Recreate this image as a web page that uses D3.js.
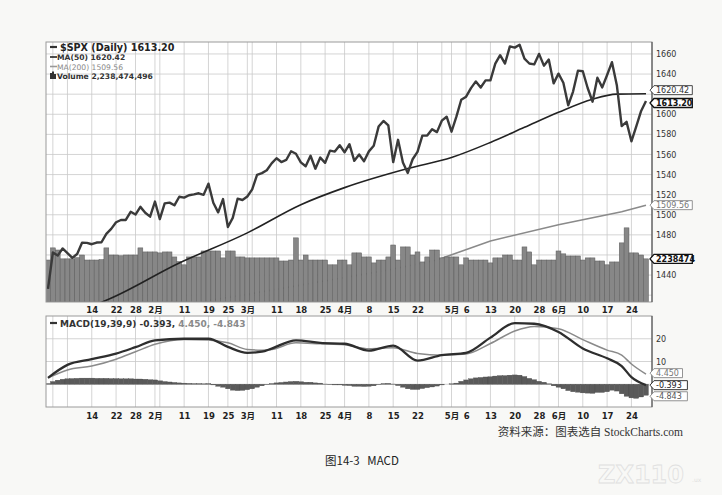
<!DOCTYPE html>
<html>
<head>
<meta charset="utf-8">
<script src="https://cdn.jsdelivr.net/npm/d3@7"></script>
<style>
body { margin: 0; background: #f8f8f6; }
svg { display: block; }
</style>
</head>
<body>
<svg id="chart" width="722" height="495"></svg>
<script>
// trading days, 2012-12-31 .. 2013-06-27
var dates = [
    "2012-12-31",
    "2013-01-02","2013-01-03","2013-01-04","2013-01-07","2013-01-08","2013-01-09","2013-01-10","2013-01-11","2013-01-14","2013-01-15","2013-01-16","2013-01-17","2013-01-18","2013-01-22","2013-01-23","2013-01-24","2013-01-25","2013-01-28","2013-01-29","2013-01-30","2013-01-31",
    "2013-02-01","2013-02-04","2013-02-05","2013-02-06","2013-02-07","2013-02-08","2013-02-11","2013-02-12","2013-02-13","2013-02-14","2013-02-15","2013-02-19","2013-02-20","2013-02-21","2013-02-22","2013-02-25","2013-02-26","2013-02-27","2013-02-28",
    "2013-03-01","2013-03-04","2013-03-05","2013-03-06","2013-03-07","2013-03-08","2013-03-11","2013-03-12","2013-03-13","2013-03-14","2013-03-15","2013-03-18","2013-03-19","2013-03-20","2013-03-21","2013-03-22","2013-03-25","2013-03-26","2013-03-27","2013-03-28",
    "2013-04-01","2013-04-02","2013-04-03","2013-04-04","2013-04-05","2013-04-08","2013-04-09","2013-04-10","2013-04-11","2013-04-12","2013-04-15","2013-04-16","2013-04-17","2013-04-18","2013-04-19","2013-04-22","2013-04-23","2013-04-24","2013-04-25","2013-04-26","2013-04-29","2013-04-30",
    "2013-05-01","2013-05-02","2013-05-03","2013-05-06","2013-05-07","2013-05-08","2013-05-09","2013-05-10","2013-05-13","2013-05-14","2013-05-15","2013-05-16","2013-05-17","2013-05-20","2013-05-21","2013-05-22","2013-05-23","2013-05-24","2013-05-28","2013-05-29","2013-05-30","2013-05-31",
    "2013-06-03","2013-06-04","2013-06-05","2013-06-06","2013-06-07","2013-06-10","2013-06-11","2013-06-12","2013-06-13","2013-06-14","2013-06-17","2013-06-18","2013-06-19","2013-06-20","2013-06-21","2013-06-24","2013-06-25","2013-06-26","2013-06-27"
];

var closes = [
    1426.19,
    1462.42,1459.37,1466.47,1461.89,1457.15,1461.02,1472.12,1472.05,1470.68,1472.34,1472.63,1480.94,1485.98,1492.56,1494.81,1494.82,1502.96,1500.18,1507.84,1501.96,1498.11,
    1513.17,1495.71,1511.29,1512.12,1509.39,1517.93,1517.01,1519.43,1520.33,1521.38,1519.79,1530.94,1511.95,1502.42,1515.60,1487.85,1496.94,1515.99,1514.68,
    1518.20,1525.20,1539.79,1541.46,1544.26,1551.18,1556.22,1552.48,1554.52,1563.23,1560.70,1552.10,1548.34,1558.71,1545.80,1556.89,1551.69,1563.77,1562.85,1569.19,
    1562.17,1570.25,1553.69,1559.98,1553.28,1563.07,1568.61,1587.73,1593.37,1588.85,1552.36,1574.57,1552.01,1541.61,1555.25,1562.50,1578.78,1578.79,1585.16,1582.24,1593.61,1597.57,
    1582.70,1597.59,1614.42,1617.50,1625.96,1632.69,1626.67,1633.70,1633.77,1650.34,1658.78,1650.47,1667.47,1666.29,1669.16,1655.35,1650.51,1649.60,1660.06,1648.36,1654.41,1630.74,
    1640.42,1631.38,1608.90,1622.56,1643.38,1642.81,1626.13,1612.52,1636.36,1626.73,1639.04,1651.81,1628.93,1588.19,1592.43,1573.09,1588.03,1603.26,1613.20
];

// volume, billions
var volumes = [
    2.18,
    2.81,2.70,2.24,2.24,2.24,2.30,2.44,2.18,2.18,2.18,2.20,2.81,2.44,2.44,2.40,2.44,2.44,2.44,2.81,2.60,2.60,
    2.60,2.55,2.60,2.60,2.34,2.10,1.93,2.34,2.34,2.34,2.65,2.65,2.65,2.65,2.29,2.65,2.65,2.34,2.34,
    2.29,2.29,2.29,2.29,2.29,2.29,2.29,2.13,2.13,2.18,3.33,2.18,2.44,2.18,2.18,2.18,2.18,1.93,1.93,2.18,
    2.18,1.93,2.55,2.55,2.34,2.34,2.03,2.18,2.18,2.34,2.96,2.18,2.86,2.86,2.44,2.60,2.08,2.34,2.70,2.70,2.29,2.34,
    2.34,2.34,1.93,2.29,2.18,2.18,2.18,2.18,2.03,2.29,2.29,2.44,2.44,2.18,2.18,2.86,2.60,1.93,2.18,2.18,2.18,2.18,
    2.65,2.50,2.39,2.39,2.39,2.18,2.29,2.29,2.13,2.13,1.93,2.08,2.08,3.07,3.85,2.55,2.55,2.44,2.24
];

// moving averages at sample dates
var ma50Dates = ["2012-12-31","2013-01-16","2013-02-08","2013-03-01","2013-03-18","2013-04-01","2013-04-18","2013-05-01","2013-05-13","2013-05-22","2013-06-03","2013-06-12","2013-06-19","2013-06-27"];
var ma50Values = [1398, 1413, 1452, 1482, 1510, 1527, 1546, 1557, 1572, 1587, 1602, 1615, 1620, 1620.42];

var ma200Dates = ["2012-12-31","2013-02-28","2013-04-12","2013-04-26","2013-05-13","2013-06-03","2013-06-20","2013-06-27"];
var ma200Values = [1390, 1420, 1445, 1455, 1474, 1490, 1503, 1509.56];

// MACD(19,39,9) line and signal, sampled
var macdDates = ["2012-12-31","2013-01-07","2013-01-14","2013-01-22","2013-01-28","2013-02-01","2013-02-11","2013-02-19","2013-02-25","2013-03-01","2013-03-06","2013-03-08","2013-03-15","2013-03-22","2013-04-01","2013-04-08","2013-04-15","2013-04-22","2013-04-29","2013-05-06","2013-05-13","2013-05-20","2013-05-24","2013-06-03","2013-06-10","2013-06-17","2013-06-20","2013-06-24","2013-06-27"];
var macdValues = [2.8, 8.5, 11, 13.5, 16.3, 19.3, 20, 20, 16.4, 13.8, 14.3, 15.7, 19.3, 18.2, 17.8, 14.8, 17, 10.4, 12.8, 13.8, 20.5, 26.9, 26.6, 23, 15.7, 11.4, 8, 3.1, -0.393];
var signalValues = [2.8, 6.3, 8, 11, 14.3, 17.6, 19.7, 19.5, 18.2, 15.3, 15, 15.3, 18.2, 17.8, 17.4, 15.6, 16, 13.5, 12.8, 13.3, 17.9, 23.4, 25.4, 24.4, 19.6, 15, 12.8, 8.9, 4.45];
var histValues = [
    0.3,
    1.2,1.8,2.2,2.4,2.5,2.6,2.7,2.7,2.7,2.6,2.6,2.6,2.5,2.5,2.4,2.4,2.4,2.3,2.3,2.2,2.0,
    1.9,1.5,1.2,1.0,0.8,0.6,0.5,0.4,0.3,0.3,0.2,0.3,-0.3,-0.9,-1.3,-2.0,-2.6,-2.8,-2.7,
    -2.4,-2.0,-1.3,-0.7,-0.2,0.3,0.6,0.8,1.0,1.2,1.3,1.1,0.9,0.9,0.6,0.5,0.1,-0.2,-0.3,-0.3,
    -0.5,-0.6,-0.9,-0.9,-1.0,-0.9,-0.7,-0.2,0.3,0.4,0.1,-0.6,-1.3,-2.0,-2.3,-2.3,-1.9,-1.5,-1.2,-0.8,-0.3,0.0,
    0.2,0.5,1.3,1.9,2.4,2.8,3.0,3.2,3.3,3.6,3.8,3.8,4.0,4.1,4.0,3.4,2.6,2.0,1.3,0.9,0.2,-0.7,
    -1.3,-2.0,-2.8,-3.3,-3.5,-3.8,-3.9,-4.0,-3.6,-3.6,-3.3,-2.6,-3.0,-4.2,-5.3,-6.0,-6.2,-5.6,-4.843
];

var tickDates = ["2013-01-14","2013-01-22","2013-01-28","2013-02-01","2013-02-11","2013-02-19","2013-02-25","2013-03-01","2013-03-11","2013-03-18","2013-03-25","2013-04-01","2013-04-08","2013-04-15","2013-04-22","2013-05-01","2013-05-06","2013-05-13","2013-05-20","2013-05-28","2013-06-03","2013-06-10","2013-06-17","2013-06-24"];
var tickLabels = ["14","22","28","2月","11","19","25","3月","11","18","25","4月","8","15","22","5月","6","13","20","28","6月","10","17","24"];
var gridDates = ["2013-01-02","2013-01-07","2013-01-14","2013-01-22","2013-01-28","2013-02-01","2013-02-04","2013-02-11","2013-02-19","2013-02-25","2013-03-01","2013-03-04","2013-03-11","2013-03-18","2013-03-25","2013-04-01","2013-04-08","2013-04-15","2013-04-22","2013-04-29","2013-05-01","2013-05-06","2013-05-13","2013-05-20","2013-05-28","2013-06-03","2013-06-10","2013-06-17","2013-06-24"];

// 1460 and 1620 sit under the value tags in the original
var priceTicks = [1440, 1480, 1500, 1520, 1540, 1560, 1580, 1600, 1640, 1660];
var priceGrid = [1420, 1440, 1460, 1480, 1500, 1520, 1540, 1560, 1580, 1600, 1620, 1640, 1660];
var macdTicks = [10, 20];
var macdGrid = [0, 10, 20];

var svg = d3.select("#chart");
var fontTxt = "DejaVu Sans, Verdana, sans-serif";
var fontCjk = "DejaVu Sans, Noto Sans CJK SC, sans-serif";

var mainTop = 42, mainBot = 302, macdTop = 316, macdBot = 407;
var left = 46, right = 652;

var x = d3.scalePoint().domain(dates).range([48, 646]);
var step = x.step();
var yPrice = d3.scaleLinear().domain([1413.2, 1671.9]).range([mainBot, mainTop]);
var yVol = d3.scaleLinear().domain([0, 13.5]).range([mainBot, mainTop]);
var yMacd = d3.scaleLinear().domain([-10, 30]).range([macdBot, macdTop]);

// panels
svg.append("rect").attr("x", left).attr("y", mainTop).attr("width", right - left).attr("height", mainBot - mainTop).attr("fill", "#fff");
svg.append("rect").attr("x", left).attr("y", macdTop).attr("width", right - left).attr("height", macdBot - macdTop).attr("fill", "#fff");

var defs = svg.append("defs");
defs.append("clipPath").attr("id", "clipMain").append("rect")
    .attr("x", left).attr("y", mainTop).attr("width", right - left).attr("height", mainBot - mainTop);
defs.append("clipPath").attr("id", "clipMacd").append("rect")
    .attr("x", left).attr("y", macdTop).attr("width", right - left).attr("height", macdBot - macdTop);

// grid
var grid = svg.append("g").attr("stroke", "#c9c9c9").attr("stroke-width", 0.8);
gridDates.forEach(function (d) {
    grid.append("line").attr("x1", x(d)).attr("x2", x(d)).attr("y1", mainTop).attr("y2", mainBot);
    grid.append("line").attr("x1", x(d)).attr("x2", x(d)).attr("y1", macdTop).attr("y2", macdBot);
});
priceGrid.forEach(function (v) {
    grid.append("line").attr("x1", left).attr("x2", right).attr("y1", yPrice(v)).attr("y2", yPrice(v));
});
macdGrid.forEach(function (v) {
    grid.append("line").attr("x1", left).attr("x2", right).attr("y1", yMacd(v)).attr("y2", yMacd(v));
});

var main = svg.append("g").attr("clip-path", "url(#clipMain)");

// MA(200) sits under the volume bars
var ma200Line = d3.line().x(function (d, i) { return x(ma200Dates[i]); }).y(function (d) { return yPrice(d); });
main.append("path").datum(ma200Values).attr("d", ma200Line)
    .attr("fill", "none").attr("stroke", "#8a8a8a").attr("stroke-width", 1.6);

// volume
main.selectAll("rect.vol").data(volumes).enter().append("rect")
    .attr("class", "vol")
    .attr("x", function (d, i) { return x(dates[i]) - step / 2; })
    .attr("y", function (d) { return yVol(d); })
    .attr("width", step)
    .attr("height", function (d) { return yVol(0) - yVol(d); })
    .attr("fill", "#878787")
    .attr("stroke", "#5a5a5a")
    .attr("stroke-width", 0.5);

var ma50Line = d3.line().curve(d3.curveMonotoneX)
    .x(function (d, i) { return x(ma50Dates[i]); }).y(function (d) { return yPrice(d); });
main.append("path").datum(ma50Values).attr("d", ma50Line)
    .attr("fill", "none").attr("stroke", "#222").attr("stroke-width", 1.6);

var priceLine = d3.line().x(function (d, i) { return x(dates[i]); }).y(function (d) { return yPrice(d); });
main.append("path").datum(closes).attr("d", priceLine)
    .attr("fill", "none").attr("stroke", "#3a3a3a").attr("stroke-width", 2.4).attr("stroke-linejoin", "round");

// MACD panel
var macdG = svg.append("g").attr("clip-path", "url(#clipMacd)");
macdG.selectAll("rect.hist").data(histValues).enter().append("rect")
    .attr("class", "hist")
    .attr("x", function (d, i) { return x(dates[i]) - step / 2; })
    .attr("y", function (d) { return yMacd(Math.max(0, d)); })
    .attr("width", step)
    .attr("height", function (d) { return Math.abs(yMacd(d) - yMacd(0)); })
    .attr("fill", "#5a5a5a")
    .attr("stroke", "#444")
    .attr("stroke-width", 0.3);

var sigLine = d3.line().curve(d3.curveMonotoneX).x(function (d, i) { return x(macdDates[i]); }).y(function (d) { return yMacd(d); });
macdG.append("path").datum(signalValues).attr("d", sigLine)
    .attr("fill", "none").attr("stroke", "#8a8a8a").attr("stroke-width", 1.5);
macdG.append("path").datum(macdValues).attr("d", sigLine)
    .attr("fill", "none").attr("stroke", "#2e2e2e").attr("stroke-width", 2.3);

// borders
[[mainTop, mainBot], [macdTop, macdBot]].forEach(function (p) {
    svg.append("rect").attr("x", left).attr("y", p[0]).attr("width", right - left).attr("height", p[1] - p[0])
        .attr("fill", "none").attr("stroke", "#9a9a9a").attr("stroke-width", 1);
    svg.append("line").attr("x1", right).attr("x2", right).attr("y1", p[0]).attr("y2", p[1])
        .attr("stroke", "#444").attr("stroke-width", 1);
});

// x axes
function dateAxis(yPos) {
    var g = svg.append("g").attr("transform", "translate(0," + yPos + ")")
        .call(d3.axisBottom(x).tickValues(tickDates).tickSize(0).tickPadding(0)
            .tickFormat(function (d, i) { return tickLabels[i]; }));
    g.select(".domain").remove();
    g.selectAll("text").attr("font-family", fontCjk).attr("font-size", 8.5).attr("font-weight", "bold")
        .attr("fill", "#222").attr("dy", "0.35em").attr("y", 0);
}
dateAxis(310);
dateAxis(416);

// right axes
var ra = svg.append("g").attr("transform", "translate(" + (right + 4) + ",0)")
    .call(d3.axisRight(yPrice).tickValues(priceTicks).tickSize(0).tickPadding(0).tickFormat(d3.format("d")));
ra.select(".domain").remove();
ra.selectAll("text").attr("font-family", fontTxt).attr("font-size", 8).attr("fill", "#333");

var rb = svg.append("g").attr("transform", "translate(" + (right + 4) + ",0)")
    .call(d3.axisRight(yMacd).tickValues(macdTicks).tickSize(0).tickPadding(0).tickFormat(d3.format("d")));
rb.select(".domain").remove();
rb.selectAll("text").attr("font-family", fontTxt).attr("font-size", 8).attr("fill", "#333");

// value tags on the right edge
function tag(yPos, label, stroke, color, bold) {
    var g = svg.append("g").attr("transform", "translate(" + (right - 2) + "," + yPos + ")");
    var w = label.length * 4.9 + 4;
    g.append("path")
        .attr("d", "M0,0 L4,-4.5 L" + (4 + w) + ",-4.5 L" + (4 + w) + ",4.5 L4,4.5 Z")
        .attr("fill", "#fff").attr("stroke", stroke).attr("stroke-width", bold ? 1.3 : 0.9);
    g.append("text").attr("x", 6).attr("y", 0).attr("dy", "0.35em")
        .attr("font-family", fontTxt).attr("font-size", 8).attr("fill", color)
        .attr("font-weight", bold ? "bold" : "normal").text(label);
}
tag(yPrice(1624), "1620.42", "#333", "#333", false);
tag(yPrice(1613.2) + 2, "1613.20", "#111", "#111", true);
tag(yPrice(1509.56), "1509.56", "#888", "#777", false);
tag(yVol(2.238), "2238474", "#111", "#111", true);
tag(yMacd(4.45) - 1, "4.450", "#888", "#777", false);
tag(yMacd(-0.393), "-0.393", "#222", "#222", false);
tag(yMacd(-4.843) + 1, "-4.843", "#888", "#555", false);

// legend
var lg = svg.append("g").attr("font-family", fontTxt);
lg.append("line").attr("x1", 50).attr("x2", 57).attr("y1", 47).attr("y2", 47).attr("stroke", "#333").attr("stroke-width", 2.2);
lg.append("text").attr("x", 60).attr("y", 50.5).attr("font-size", 9.6).attr("font-weight", "bold").attr("fill", "#222")
    .text("$SPX (Daily) 1613.20");
lg.append("line").attr("x1", 50).attr("x2", 57).attr("y1", 57).attr("y2", 57).attr("stroke", "#222").attr("stroke-width", 1.6);
lg.append("text").attr("x", 57).attr("y", 60).attr("font-size", 7.6).attr("font-weight", "bold").attr("fill", "#333")
    .text("MA(50) 1620.42");
lg.append("line").attr("x1", 50).attr("x2", 57).attr("y1", 66.5).attr("y2", 66.5).attr("stroke", "#999").attr("stroke-width", 1.6);
lg.append("text").attr("x", 57).attr("y", 69.5).attr("font-size", 7.6).attr("fill", "#8a8a8a")
    .text("MA(200) 1509.56");
lg.append("rect").attr("x", 50).attr("y", 73).attr("width", 2).attr("height", 6).attr("fill", "#333");
lg.append("rect").attr("x", 52).attr("y", 71.5).attr("width", 2).attr("height", 7.5).attr("fill", "#333");
lg.append("rect").attr("x", 54).attr("y", 74).attr("width", 2).attr("height", 5).attr("fill", "#333");
lg.append("text").attr("x", 57).attr("y", 79).attr("font-size", 7.6).attr("font-weight", "bold").attr("fill", "#333")
    .text("Volume 2,238,474,496");

lg.append("line").attr("x1", 50).attr("x2", 57).attr("y1", 323).attr("y2", 323).attr("stroke", "#333").attr("stroke-width", 2.2);
var mt = lg.append("text").attr("x", 60).attr("y", 326.5).attr("font-size", 9).attr("font-weight", "bold");
mt.append("tspan").attr("fill", "#333").text("MACD(19,39,9) -0.393, ");
mt.append("tspan").attr("fill", "#8a8a8a").text("4.450, -4.843");

// captions
svg.append("text").attr("x", 683).attr("y", 436).attr("text-anchor", "end")
    .attr("font-family", "Liberation Serif, Noto Sans CJK SC, serif").attr("font-size", 11.5).attr("fill", "#333")
    .text("资料来源：图表选自 StockCharts.com");
svg.append("text").attr("x", 325).attr("y", 465).style("white-space", "pre")
    .attr("font-family", "Noto Sans CJK SC, sans-serif").attr("font-size", 11.5).attr("fill", "#222")
    .text("图14-3\u00a0\u00a0\u00a0MACD");

// faint watermark
svg.append("text").attr("x", 598).attr("y", 483)
    .attr("font-family", "DejaVu Sans, sans-serif").attr("font-size", 24).attr("font-weight", "bold")
    .attr("fill", "none").attr("stroke", "#e0e0e0").attr("stroke-width", 0.8)
    .text("ZX110");
svg.append("text").attr("x", 692).attr("y", 482)
    .attr("font-family", "DejaVu Sans, sans-serif").attr("font-size", 6)
    .attr("fill", "#e0e0e0").text(".ux");
</script>
</body>
</html>
